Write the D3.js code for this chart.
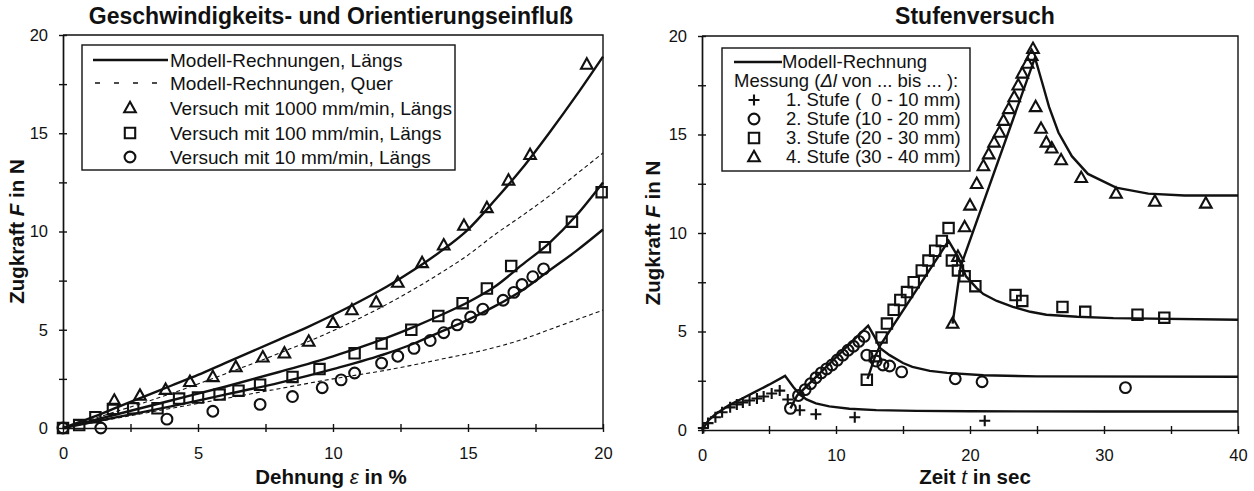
<!DOCTYPE html>
<html>
<head>
<meta charset="utf-8">
<script src="https://d3js.org/d3.v7.min.js"></script>
<style>
  body { margin: 0; background: #fff; }
  svg text { font-family: "Liberation Sans", Arial, sans-serif; fill: #111; }
  .title { font-size: 23px; font-weight: bold; text-anchor: middle; }
  .axis-label { font-size: 20.5px; font-weight: bold; text-anchor: middle; }
  .axis .tick text { font-size: 16.5px; }
  .axis .domain { stroke: #111; stroke-width: 1.7px; }
  .axis .tick line { stroke: #111; stroke-width: 1.4px; }
  .frame { stroke: #111; stroke-width: 1.4px; fill: none; }
  .legend text { font-size: 19px; }
  .legend--right text { font-size: 18.5px; }
  .model { fill: none; stroke: #111; stroke-width: 2.4px; }
  .model--dash { stroke-width: 1.1px; stroke-dasharray: 4 3; }
  .legend .model--dash { stroke-width: 1.3px; stroke-dasharray: 5 14; }
  .mark { fill: none; stroke: #111; stroke-width: 2.1px; }
</style>
</head>
<body>
<svg width="1254" height="491"></svg>
<script>
// ---- left chart: Geschwindigkeits- und Orientierungseinfluss (Dehnung % -> Zugkraft N)
const leftXTicks = [0, 2.5, 5, 7.5, 10, 12.5, 15, 17.5, 20];
const leftYTicks = [0, 2.5, 5, 7.5, 10, 12.5, 15, 17.5, 20];

const modelLaengs1000 = [[0,0],[1,0.5],[2,1.05],[3,1.6],[4,2.15],[5,2.7],[6,3.3],[7,3.9],[8,4.5],[9,5.1],[10,5.75],[11,6.45],[12,7.2],[13,8.05],[14,9.0],[15,10.1],[16,11.6],[17,13.2],[18,15.0],[19,16.9],[20,18.9]];
const modelQuer1000 = [[0,0],[2,0.85],[4,1.75],[6,2.75],[8,3.8],[10,4.95],[12,6.3],[14,7.9],[15,8.8],[16,9.85],[17,10.8],[18,11.8],[19,12.9],[20,14.0]];
const modelLaengs100 = [[0,0],[2,0.7],[4,1.4],[6,2.1],[8,2.85],[10,3.65],[11,4.1],[12,4.6],[13,5.15],[14,5.75],[15,6.4],[16,7.2],[17,8.3],[18,9.4],[19,10.8],[20,12.5]];
const modelLaengs10 = [[0,0],[2,0.55],[4,1.1],[6,1.7],[8,2.3],[10,3.0],[12,3.8],[13,4.3],[14,4.9],[15,5.5],[16,6.2],[17,7.0],[18,8.0],[19,9.0],[20,10.1]];
const modelQuer10 = [[0,0],[2,0.5],[4,1.0],[6,1.5],[8,2.0],[10,2.5],[12,2.95],[14,3.5],[16,4.1],[17,4.5],[18,5.0],[19,5.5],[20,6.0]];

const versuch1000 = [[1.9,1.4],[2.85,1.65],[3.8,1.95],[4.7,2.35],[5.55,2.6],[6.4,3.1],[7.4,3.6],[8.2,3.8],[9.1,4.4],[10.0,5.35],[10.7,6.0],[11.6,6.4],[12.4,7.4],[13.3,8.4],[14.1,9.3],[14.85,10.3],[15.7,11.2],[16.5,12.6],[17.3,13.9],[19.4,18.5]];
const versuch100 = [[0,0],[0.6,0.15],[1.2,0.55],[1.85,0.97],[2.6,1.0],[3.5,1.0],[4.3,1.5],[5.0,1.55],[5.8,1.7],[6.5,1.9],[7.3,2.2],[8.5,2.6],[9.5,3.0],[10.8,3.8],[11.8,4.3],[12.9,5.0],[13.9,5.7],[14.8,6.35],[15.7,7.1],[16.6,8.25],[17.85,9.2],[18.85,10.5],[19.95,12.0]];
const versuch10 = [[0,0],[1.4,0],[3.85,0.45],[5.55,0.85],[7.3,1.2],[8.5,1.6],[9.6,2.05],[10.3,2.45],[10.8,2.8],[11.8,3.3],[12.4,3.65],[13.0,4.05],[13.6,4.45],[14.1,4.85],[14.6,5.25],[15.1,5.65],[15.55,6.05],[16.3,6.5],[16.7,6.9],[17.0,7.3],[17.4,7.7],[17.8,8.1]];

const leftLegend = ["Modell-Rechnungen, Längs", "Modell-Rechnungen, Quer", "Versuch mit 1000 mm/min, Längs", "Versuch mit 100 mm/min, Längs", "Versuch mit 10 mm/min, Längs"];

// ---- right chart: Stufenversuch (Zeit s -> Zugkraft N)
const rightXTicks = [0, 5, 10, 15, 20, 25, 30, 35, 40];
const rightYTicks = [0, 2.5, 5, 7.5, 10, 12.5, 15, 17.5, 20];

const stufe1Model = [[0,0],[0.5,0.5],[1,0.8],[2,1.25],[3,1.6],[4,1.95],[5,2.3],[6.2,2.75],[6.8,2.2],[7.3,1.8],[7.8,1.55],[8.5,1.35],[9.5,1.2],[11,1.08],[13,1.01],[16,0.97],[20,0.95],[30,0.94],[40,0.94]];
const stufe2Model = [[6.6,1.1],[7.1,1.75],[12.4,5.3],[12.9,4.7],[13.3,4.15],[14,3.8],[15,3.4],[15.7,3.2],[17,3.0],[18.3,2.9],[21,2.78],[25,2.72],[40,2.7]];
const stufe3Model = [[12.35,2.6],[12.9,3.7],[13.3,4.3],[18.4,9.6],[19.1,8.8],[19.7,7.8],[20.5,7.2],[21,6.9],[22,6.55],[23.2,6.25],[24.5,6.0],[25.7,5.85],[28,5.75],[30.7,5.68],[40,5.6]];
const stufe4Model = [[18.7,5.4],[19.3,8.3],[24.85,18.9],[25.4,17.6],[25.9,16.4],[26.6,15.1],[27.6,13.9],[28.8,13.0],[30.9,12.3],[33.3,12.0],[36,11.9],[40,11.9]];

const stufe1 = [[0.1,0.1],[0.45,0.35],[1.0,0.65],[1.5,0.9],[2.1,1.15],[2.6,1.3],[3.05,1.4],[3.55,1.5],[4.1,1.6],[4.6,1.7],[5.2,1.85],[5.8,2.0],[6.4,1.55],[7.3,1.0],[8.5,0.8],[11.4,0.65],[21.1,0.47]];
const stufe2 = [[6.6,1.1],[7.2,1.75],[7.7,2.05],[8.1,2.35],[8.5,2.65],[8.9,2.9],[9.3,3.1],[9.7,3.3],[10.1,3.55],[10.5,3.8],[10.9,4.05],[11.3,4.25],[11.7,4.5],[12.1,4.75],[12.3,3.8],[13.0,3.5],[13.5,3.3],[14.0,3.25],[14.9,2.95],[18.9,2.6],[20.9,2.45],[31.6,2.15]];
const stufe3 = [[12.3,2.55],[12.9,3.75],[13.4,4.7],[13.8,5.4],[14.3,6.1],[14.8,6.6],[15.3,7.0],[15.8,7.5],[16.4,8.1],[16.9,8.6],[17.4,9.1],[17.9,9.6],[18.4,10.25],[18.65,8.6],[19.1,8.1],[19.6,7.8],[20.4,7.3],[23.4,6.85],[23.9,6.55],[26.9,6.25],[28.6,6.0],[32.5,5.85],[34.5,5.7]];
const stufe4 = [[18.7,5.4],[19.1,8.8],[19.6,10.3],[20.0,11.4],[20.5,12.5],[21.0,13.4],[21.4,14.0],[21.8,14.6],[22.2,15.1],[22.5,15.7],[22.9,16.3],[23.3,16.9],[23.6,17.5],[23.9,18.1],[24.3,18.6],[24.6,19.0],[24.7,19.35],[24.9,16.4],[25.3,15.3],[25.7,14.6],[26.1,14.3],[26.8,13.7],[28.3,12.8],[30.9,12.0],[33.8,11.6],[37.6,11.5]];

const rightLegend = ["Modell-Rechnung", "1. Stufe (  0 - 10 mm)", "2. Stufe (10 - 20 mm)", "3. Stufe (20 - 30 mm)", "4. Stufe (30 - 40 mm)"];

const svg = d3.select("svg");

// marker shapes
const shapes = {
  triangle: "M0,-6.2L5.8,4.2L-5.8,4.2Z",
  square: "M-5.2,-5.2H5.2V5.2H-5.2Z",
  circle: "M5.4,0A5.4,5.4 0 1 1 -5.4,0A5.4,5.4 0 1 1 5.4,0Z",
  plus: "M-5.5,0H5.5M0,-5.5V5.5"
};

function drawMarks(g, data, shape, xScale, yScale) {
  g.append("g").selectAll("path").data(data)
    .enter().append("path")
      .attr("class", "mark")
      .attr("d", shapes[shape])
      .attr("transform", d => `translate(${xScale(d[0])},${yScale(d[1])})`);
}

function drawPanel(opt) {
  const x = d3.scaleLinear().domain(opt.xDomain).range(opt.xRange);
  const y = d3.scaleLinear().domain([0, 20]).range(opt.yRange);
  const g = svg.append("g");

  // frame (top + right)
  g.append("path")
    .attr("class", "frame")
    .attr("d", `M${opt.xRange[0]},${opt.yRange[1]}H${opt.xRange[1]}V${opt.yRange[0]}`);

  const xAxis = d3.axisBottom(x)
    .tickValues(opt.xTicks)
    .tickSizeInner(4)
    .tickSizeOuter(0)
    .tickPadding(15)
    .tickFormat(d => d % opt.xLabelStep === 0 ? d : "");
  const yAxis = d3.axisLeft(y)
    .tickValues(opt.yTicks)
    .tickSizeInner(4)
    .tickSizeOuter(0)
    .tickPadding(11)
    .tickFormat(d => d % 5 === 0 ? d : "");

  const xAxisG = g.append("g")
      .attr("class", "axis")
      .attr("transform", `translate(0,${opt.yRange[0]})`)
      .call(xAxis);
  xAxisG.selectAll(".tick line").attr("y1", -4);
  const yAxisG = g.append("g")
      .attr("class", "axis")
      .attr("transform", `translate(${opt.xRange[0]},0)`)
      .call(yAxis);
  yAxisG.selectAll(".tick line").attr("x1", 4);

  // titles
  g.append("text").attr("class", "title")
    .attr("x", opt.titleX).attr("y", 24).text(opt.title);

  const xl = g.append("text").attr("class", "axis-label")
    .attr("x", opt.titleX).attr("y", 484);
  xl.append("tspan").text(opt.xLabel[0]);
  xl.append("tspan").attr("font-style", "italic").attr("font-weight", "normal").text(opt.xLabel[1]);
  xl.append("tspan").text(opt.xLabel[2]);

  const yl = g.append("text").attr("class", "axis-label")
    .attr("transform", `translate(${opt.yLabelX},${(opt.yRange[0] + opt.yRange[1]) / 2}) rotate(-90)`);
  yl.append("tspan").text("Zugkraft ");
  yl.append("tspan").attr("font-style", "italic").text("F");
  yl.append("tspan").text(" in N");

  return {g, x, y};
}

const line = (x, y) => d3.line().x(d => x(d[0])).y(d => y(d[1]));

// ----- left panel
const L = drawPanel({
  xDomain: [0, 20], xRange: [63, 603], yRange: [428, 35],
  xTicks: leftXTicks, yTicks: leftYTicks, xLabelStep: 5,
  title: "Geschwindigkeits- und Orientierungseinfluß", titleX: 331,
  xLabel: ["Dehnung ", "ε", " in %"], yLabelX: 24
});
const lLine = line(L.x, L.y).curve(d3.curveMonotoneX);
[modelLaengs1000, modelLaengs100, modelLaengs10].forEach(s =>
  L.g.append("path").attr("class", "model").attr("d", lLine(s)));
[modelQuer1000, modelQuer10].forEach(s =>
  L.g.append("path").attr("class", "model model--dash").attr("d", lLine(s)));
drawMarks(L.g, versuch10, "circle", L.x, L.y);
drawMarks(L.g, versuch100, "square", L.x, L.y);
drawMarks(L.g, versuch1000, "triangle", L.x, L.y);

// left legend
const lLeg = L.g.append("g").attr("class", "legend");
lLeg.append("rect").attr("class", "frame").attr("x", 82).attr("y", 45).attr("width", 373).attr("height", 125);
const lRows = [60, 83, 108, 133, 157];
lLeg.append("line").attr("class", "model").attr("x1", 93).attr("x2", 168).attr("y1", lRows[0]).attr("y2", lRows[0]);
lLeg.append("line").attr("class", "model model--dash").attr("x1", 95).attr("x2", 170).attr("y1", lRows[1]).attr("y2", lRows[1]);
["triangle", "square", "circle"].forEach((s, i) =>
  lLeg.append("path").attr("class", "mark").attr("d", shapes[s])
    .attr("transform", `translate(130,${lRows[i + 2]})`));
lLeg.selectAll("text.entry").data(leftLegend).enter().append("text")
  .attr("class", "entry").attr("x", 170).attr("y", (d, i) => lRows[i]).attr("dy", "0.35em").text(d => d);

// ----- right panel
const R = drawPanel({
  xDomain: [0, 40], xRange: [702, 1238], yRange: [430, 36],
  xTicks: rightXTicks, yTicks: rightYTicks, xLabelStep: 10,
  title: "Stufenversuch", titleX: 975,
  xLabel: ["Zeit ", "t", " in sec"], yLabelX: 660
});
const rLine = line(R.x, R.y).curve(d3.curveLinear);
[stufe1Model, stufe2Model, stufe3Model, stufe4Model].forEach(s =>
  R.g.append("path").attr("class", "model").attr("d", rLine(s)));
drawMarks(R.g, stufe1, "plus", R.x, R.y);
drawMarks(R.g, stufe2, "circle", R.x, R.y);
drawMarks(R.g, stufe3, "square", R.x, R.y);
drawMarks(R.g, stufe4, "triangle", R.x, R.y);

// right legend
const rLeg = R.g.append("g").attr("class", "legend legend--right");
rLeg.append("rect").attr("class", "frame").attr("x", 722).attr("y", 48).attr("width", 248).attr("height", 123);
const rRows = [62, 81, 100, 119, 138, 157];
rLeg.append("line").attr("class", "model").attr("x1", 734).attr("x2", 782).attr("y1", rRows[0]).attr("y2", rRows[0]);
rLeg.append("text").attr("x", 782).attr("y", rRows[0]).attr("dy", "0.35em").text(rightLegend[0]);
const mess = rLeg.append("text").attr("x", 734).attr("y", rRows[1]).attr("dy", "0.35em");
mess.append("tspan").text("Messung (");
mess.append("tspan").attr("font-style", "italic").text("Δl");
mess.append("tspan").text(" von ... bis ... ):");
["plus", "circle", "square", "triangle"].forEach((s, i) => {
  rLeg.append("path").attr("class", "mark").attr("d", shapes[s])
    .attr("transform", `translate(754,${rRows[i + 2]})`);
  rLeg.append("text").attr("x", 786).attr("y", rRows[i + 2]).attr("dy", "0.35em")
    .style("white-space", "pre").attr("xml:space", "preserve").text(rightLegend[i + 1]);
});
</script>
</body>
</html>
